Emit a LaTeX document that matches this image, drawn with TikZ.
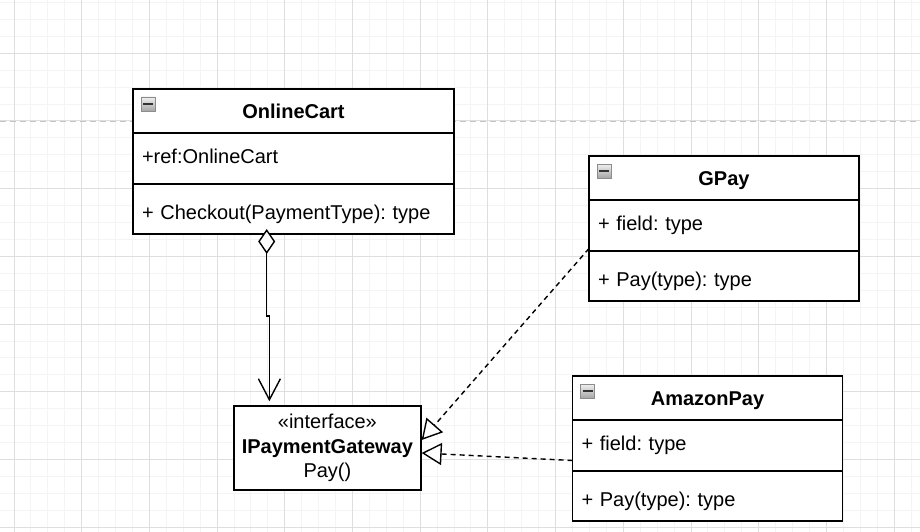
\documentclass[tikz,border=0pt]{standalone}
\usepackage{fontspec}
\setmainfont{Liberation Sans}
\frenchspacing
\usetikzlibrary{positioning, arrows.meta}
\definecolor{minorgrid}{RGB}{244,244,244}
\definecolor{majorgrid}{RGB}{222,222,222}
\definecolor{pageline}{RGB}{195,195,195}
\tikzset{
    % grid styles
    minor line/.style = {draw=minorgrid, line width=1pt},
    major line/.style = {draw=majorgrid, line width=1pt},
    page break/.style = {draw=pageline, line width=1.6pt, dash pattern=on 6pt off 4pt},
    % class compartments
    classhead/.style = {draw, line width=1.5pt, fill=white, minimum width=#1, minimum height=44pt,
        inner sep=0pt, outer sep=0pt, text height=15pt, text depth=1pt,
        font=\fontsize{20}{24.5}\selectfont\bfseries},
    fieldpart/.style = {draw, line width=1.5pt, fill=white, text width=#1, align=left,
        minimum height=51pt, inner xsep=9pt, inner ysep=0pt, outer sep=0pt,
        text height=15pt, text depth=4.5pt},
    methodpart/.style = {fieldpart=#1, minimum height=50pt, text height=25pt},
    collapse/.style = {minimum size=14pt, inner sep=0pt, outer sep=0pt, draw=black!45, line width=0.8pt,
        top color=black!6, bottom color=black!35,
        path picture={\fill[black!80] ([xshift=-5pt,yshift=-1.2pt]path picture bounding box.center)
            rectangle ([xshift=5pt,yshift=1.2pt]path picture bounding box.center);}},
    interfacebox/.style = {draw, line width=1.5pt, fill=white, minimum width=187pt, minimum height=84pt,
        align=center, inner sep=0pt},
    % connector styles
    aggregation/.style = {line width=1.4pt, {Diamond[length=25pt,width=17pt,fill=white]}-{Straight Barb[length=21pt,width=22pt]}},
    realization/.style = {line width=1.4pt, dash pattern=on 5pt off 4pt,
        -{Triangle[length=20pt,width=22pt,fill=white]}}
}
\begin{document}
\begin{tikzpicture}[x=1pt, y=-1pt, font=\fontsize{20}{24.5}\selectfont]
    \useasboundingbox (0,0) rectangle (920,532);
    % background grid
    \fill[white] (0,0) rectangle (920,532);
    \foreach \k in {0,...,53}
        \draw[minor line] ({14+16.925*\k},0) -- ++(0,532);
    \foreach \k in {-3,...,28}
        \draw[minor line] (0,{53.3+16.925*\k}) -- ++(920,0);
    \foreach \k in {0,...,13}
        \draw[major line] ({14+67.7*\k},0) -- ++(0,532);
    \foreach \k in {0,...,7}
        \draw[major line] (0,{53.3+67.7*\k}) -- ++(920,0);
    \draw[page break] (0,121.7) -- (920,121.7);

    % OnlineCart
    \node[classhead=321pt] (cart) at (293.5,111) {OnlineCart};
    \node[fieldpart=303pt, below=0pt of cart] (cartfield) {+ref:OnlineCart};
    \node[methodpart=303pt, below=0pt of cartfield] (cartmethod) {+ Checkout(PaymentType): type};
    \node[collapse, below right=8pt and 8pt of cart.north west] (carticon) {};

    % GPay
    \node[classhead=270pt] (gpay) at (724,178) {GPay};
    \node[fieldpart=252pt, below=0pt of gpay] (gpayfield) {+ field: type};
    \node[methodpart=252pt, below=0pt of gpayfield] (gpaymethod) {+ Pay(type): type};
    \node[collapse, below right=8pt and 8pt of gpay.north west] (gpayicon) {};

    % AmazonPay
    \node[classhead=270pt] (amazon) at (707.5,398) {AmazonPay};
    \node[fieldpart=252pt, below=0pt of amazon] (amazonfield) {+ field: type};
    \node[methodpart=252pt, below=0pt of amazonfield] (amazonmethod) {+ Pay(type): type};
    \node[collapse, below right=8pt and 8pt of amazon.north west] (amazonicon) {};

    % interface
    \node[interfacebox] (gateway) at (327.4,448) {«interface»\\\textbf{IPaymentGateway}\\Pay()};

    % connectors
    \draw[aggregation] ([xshift=133.7pt,yshift=5pt]cartmethod.south west) -- ++(0,87)
        -| ([xshift=-58pt,yshift=4pt]gateway.north);
    \draw[realization] ([yshift=2.5pt]gpayfield.south west) -- ([yshift=8pt]gateway.east);
    \draw[realization] ([yshift=-15pt]amazonfield.west) -- ([yshift=-5pt]gateway.east);
\end{tikzpicture}
\end{document}
